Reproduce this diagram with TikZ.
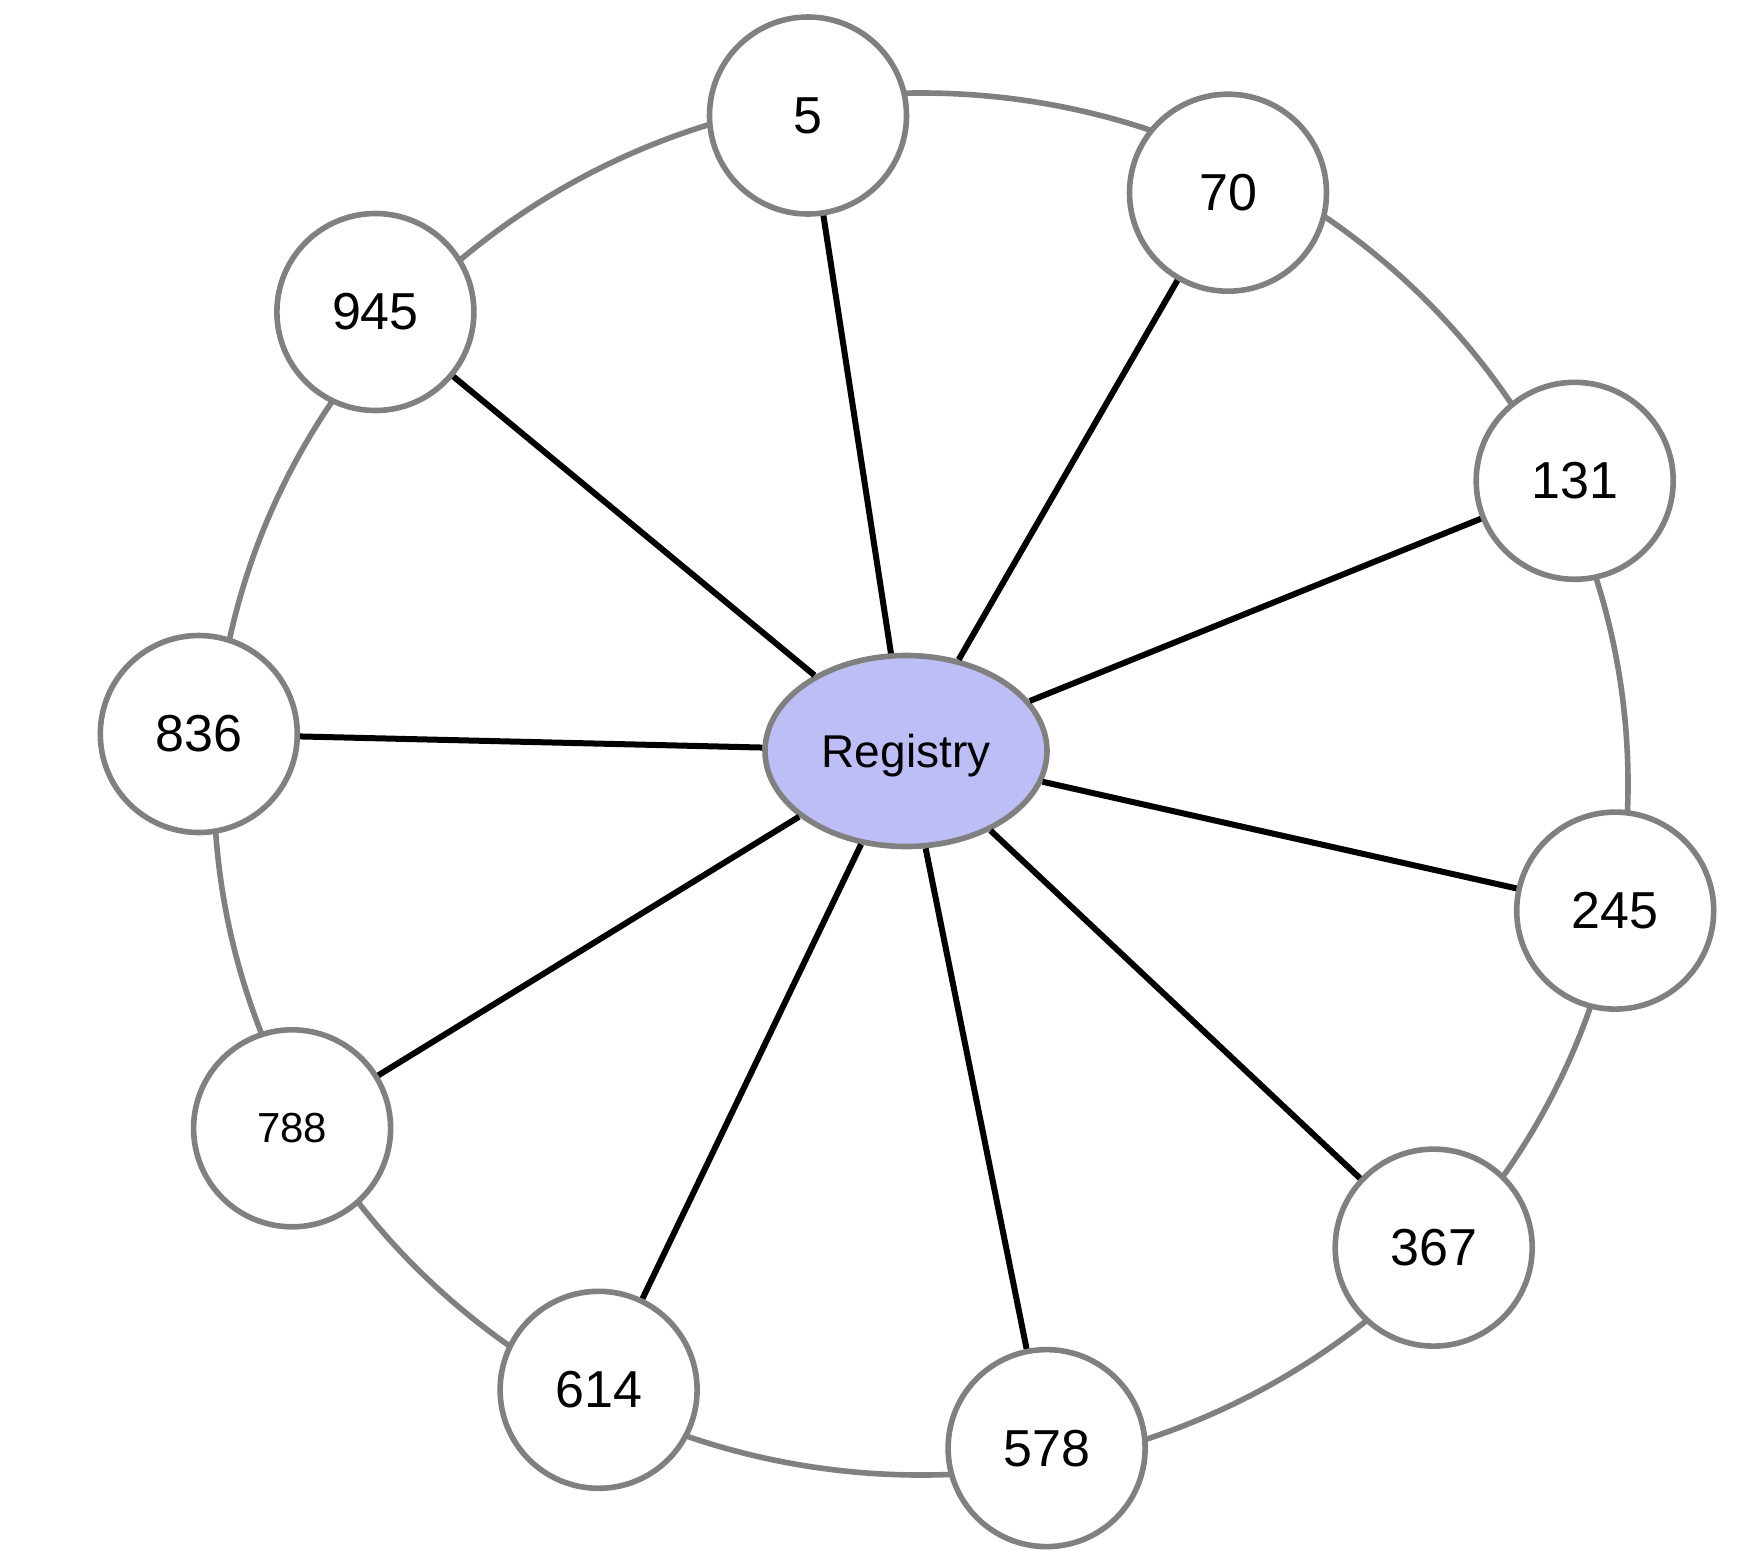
\documentclass[tikz,border=0pt]{standalone}
\usepackage{fontspec}
\setmainfont{Liberation Sans}
\usetikzlibrary{shapes.geometric}
\definecolor{ringgray}{RGB}{128,128,128}
\definecolor{regfill}{RGB}{190,190,246}
\begin{document}
\begin{tikzpicture}[x=0.5pt,y=-0.5pt,
  peer/.style={circle,draw=ringgray,line width=2.8pt,fill=white,minimum size=98.5pt,inner sep=0pt,font=\fontsize{26}{30}\selectfont},
  hub/.style={ellipse,draw=ringgray,line width=2.8pt,fill=regfill,minimum width=141pt,minimum height=95.5pt,inner sep=0pt,text depth=0pt,font=\fontsize{23}{27}\selectfont},
  ringline/.style={draw=ringgray,line width=2.8pt},
  spoke/.style={draw=black,line width=3pt}]
\useasboundingbox (0,0) rectangle (1739,1558);
\draw[ringline] (921,784) ellipse [x radius=353.5pt, y radius=345.5pt];
\node[hub] (reg) at (906,751) {Registry};
\node[peer] (n5) at (808,115.5) {5};
\node[peer] (n70) at (1228,192.7) {70};
\node[peer] (n131) at (1574.7,480.8) {131};
\node[peer] (n245) at (1615.2,910.6) {245};
\node[peer] (n367) at (1433.7,1247.6) {367};
\node[peer] (n578) at (1046.6,1448.1) {578};
\node[peer] (n614) at (598.6,1389.8) {614};
\node[peer,font=\fontsize{21}{25}\selectfont] (n788) at (292.1,1128.3) {788};
\node[peer] (n836) at (198.8,734) {836};
\node[peer] (n945) at (375.4,312) {945};
\foreach \n in {n5,n70,n131,n245,n367,n578,n614,n788,n836,n945}
  \draw[spoke] (reg) -- (\n);
\end{tikzpicture}
\end{document}
